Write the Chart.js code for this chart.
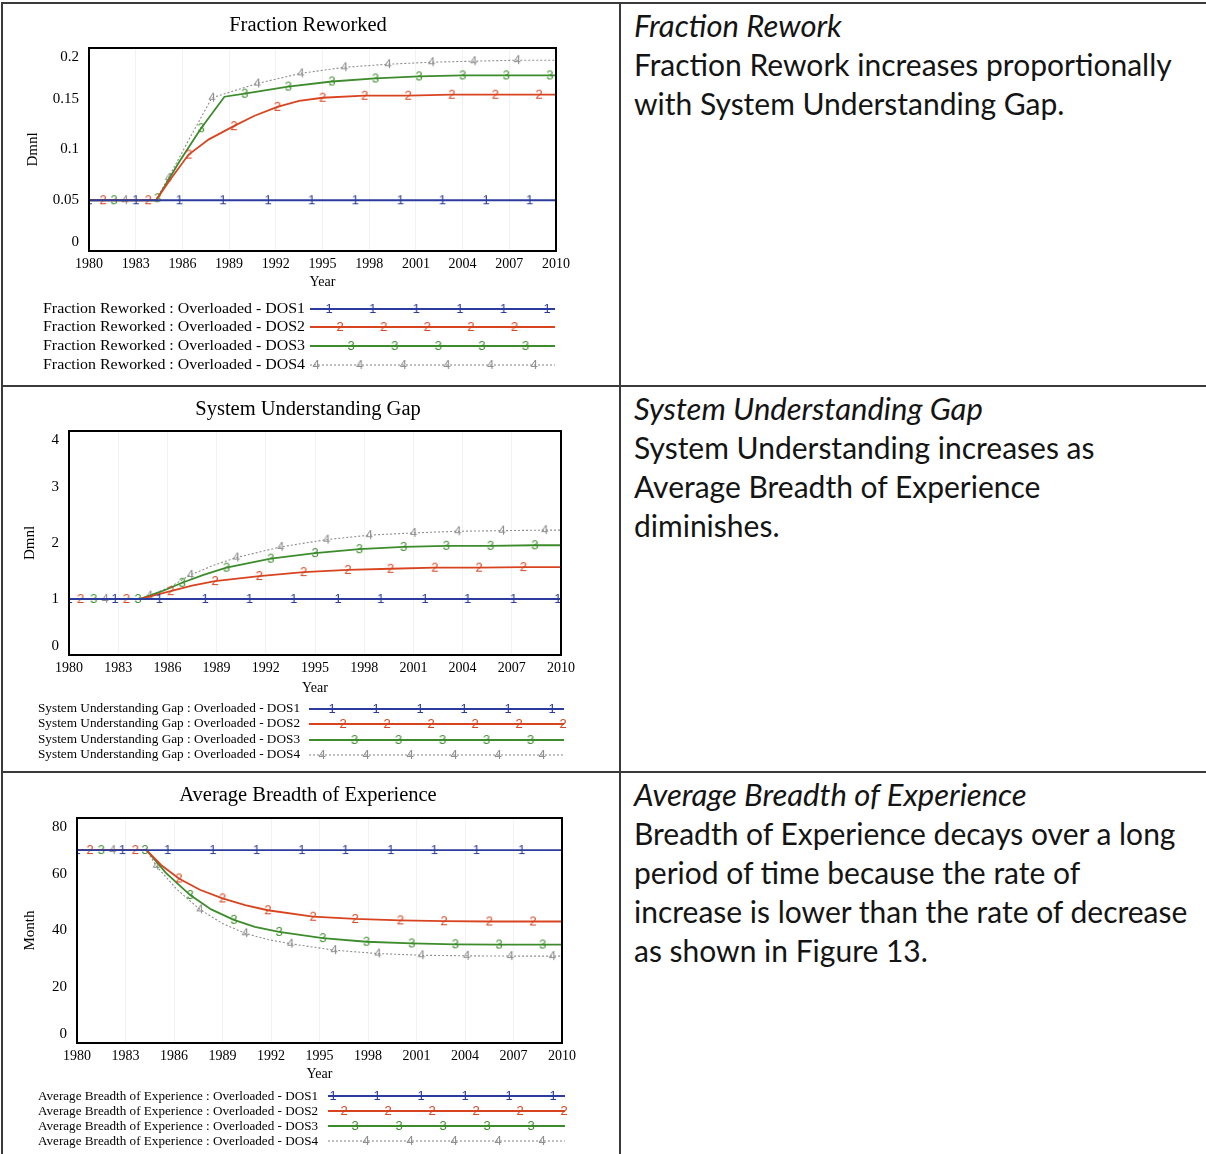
<!DOCTYPE html>
<html><head><meta charset="utf-8">
<script src="https://cdn.jsdelivr.net/npm/chart.js@4.4.1/dist/chart.umd.min.js"></script>
<style>
html,body{margin:0;padding:0;background:#fff;}
body{width:1206px;height:1154px;position:relative;overflow:hidden;}
canvas{position:absolute;left:0;}
.ln{position:absolute;background:#3a3a3a;}
.txt{position:absolute;left:634px;font-family:Lato,"Open Sans",sans-serif;font-size:30px;line-height:39px;color:#141414;white-space:nowrap;}
.txt i{font-style:italic;font-size:31px;}
</style></head><body>
<canvas id="c1" width="618" height="386" style="top:0"></canvas>
<canvas id="c2" width="618" height="386" style="top:386px"></canvas>
<canvas id="c3" width="618" height="382" style="top:772px"></canvas>

<div class="ln" style="left:1px;top:2px;width:1205px;height:2px"></div>
<div class="ln" style="left:1px;top:2px;width:2px;height:1152px"></div>
<div class="ln" style="left:619px;top:2px;width:2px;height:1152px"></div>
<div class="ln" style="left:1px;top:385px;width:1205px;height:2px"></div>
<div class="ln" style="left:1px;top:771px;width:1205px;height:2px"></div>

<div class="txt" style="top:6px"><i>Fraction Rework</i><br>Fraction Rework increases proportionally<br>with System Understanding Gap.</div>
<div class="txt" style="top:389px"><i>System Understanding Gap</i><br>System Understanding increases as<br>Average Breadth of Experience<br>diminishes.</div>
<div class="txt" style="top:775px"><i>Average Breadth of Experience</i><br>Breadth of Experience decays over a long<br>period of time because the rate of<br>increase is lower than the rate of decrease<br>as shown in Figure 13.</div>

<script>
// ---------- DATA ----------
const xTicks = [1980, 1983, 1986, 1989, 1992, 1995, 1998, 2001, 2004, 2007, 2010];
const seriesNames = ["Overloaded - DOS1", "Overloaded - DOS2", "Overloaded - DOS3", "Overloaded - DOS4"];

// Chart 1: Fraction Reworked (Dmnl)
const frX1 = [1980, 1983, 1985.8, 1988.6, 1991.5, 1994.3, 1997.1, 2000, 2002.7, 2005.5, 2008.3, 2010];
const frY1 = [0.05, 0.05, 0.05, 0.05, 0.05, 0.05, 0.05, 0.05, 0.05, 0.05, 0.05, 0.05];
const frM1 = [1980, 1983, 1985.8, 1988.6, 1991.5, 1994.3, 1997.1, 2000, 2002.7, 2005.5, 2008.3];
const frX2 = [1980, 1980.9, 1983.8, 1984.3, 1985.2, 1986.4, 1987.7, 1989.3, 1990.6, 1992.1, 1993.5, 1995, 1997.7, 2000.5, 2003.3, 2006.1, 2008.9, 2010];
const frY2 = [0.05, 0.05, 0.05, 0.05, 0.07, 0.095, 0.11, 0.123, 0.133, 0.142, 0.148, 0.151, 0.153, 0.153, 0.154, 0.154, 0.154, 0.154];
const frM2 = [1980.9, 1983.8, 1986.4, 1989.3, 1992.1, 1995, 1997.7, 2000.5, 2003.3, 2006.1, 2008.9];
const frX3 = [1980, 1981.6, 1984.3, 1984.4, 1985.8, 1987.2, 1988.7, 1990, 1992.8, 1995.6, 1998.4, 2001.2, 2004, 2006.8, 2009.6, 2010];
const frY3 = [0.05, 0.05, 0.05, 0.052, 0.088, 0.121, 0.152, 0.155, 0.162, 0.167, 0.170, 0.172, 0.173, 0.173, 0.173, 0.173];
const frM3 = [1981.6, 1984.4, 1987.2, 1990, 1992.8, 1995.6, 1998.4, 2001.2, 2004, 2006.8, 2009.6];
const frX4 = [1980, 1982.3, 1984.3, 1985.1, 1986.5, 1987.9, 1990.8, 1993.6, 1996.4, 1999.2, 2002, 2004.7, 2007.5, 2010];
const frY4 = [0.05, 0.05, 0.05, 0.072, 0.112, 0.151, 0.165, 0.175, 0.181, 0.184, 0.186, 0.187, 0.188, 0.188];
const frM4 = [1982.3, 1985.1, 1987.9, 1990.8, 1993.6, 1996.4, 1999.2, 2002, 2004.7, 2007.5];

// Chart 2: System Understanding Gap (Dmnl)
const sgX1 = [1980, 1982.8, 1985.5, 1988.3, 1991, 1993.7, 1996.4, 1999, 2001.7, 2004.3, 2007.1, 2009.8, 2010];
const sgY1 = [1, 1, 1, 1, 1, 1, 1, 1, 1, 1, 1, 1, 1];
const sgM1 = [1980, 1982.8, 1985.5, 1988.3, 1991, 1993.7, 1996.4, 1999, 2001.7, 2004.3, 2007.1, 2009.8];
const sgX2 = [1980, 1980.7, 1983.5, 1984.3, 1986.2, 1987.5, 1988.9, 1991.6, 1994.3, 1997, 1999.6, 2002.3, 2005, 2007.7, 2010];
const sgY2 = [1, 1, 1, 1, 1.14, 1.24, 1.32, 1.41, 1.48, 1.52, 1.54, 1.56, 1.56, 1.57, 1.57];
const sgM2 = [1980.7, 1983.5, 1986.2, 1988.9, 1991.6, 1994.3, 1997, 1999.6, 2002.3, 2005, 2007.7];
const sgX3 = [1980, 1981.5, 1984.2, 1984.3, 1985.6, 1986.9, 1988.2, 1989.6, 1992.3, 1995, 1997.7, 2000.4, 2003, 2005.7, 2008.4, 2010];
const sgY3 = [1, 1, 1, 1, 1.13, 1.29, 1.43, 1.56, 1.72, 1.82, 1.89, 1.93, 1.95, 1.95, 1.96, 1.96];
const sgM3 = [1981.5, 1984.2, 1986.9, 1989.6, 1992.3, 1995, 1997.7, 2000.4, 2003, 2005.7, 2008.4];
const sgX4 = [1980, 1982.2, 1984.3, 1984.9, 1986.2, 1987.4, 1988.8, 1990.2, 1992.9, 1995.7, 1998.3, 2001, 2003.7, 2006.4, 2009, 2010];
const sgY4 = [1, 1, 1, 1.06, 1.22, 1.43, 1.6, 1.74, 1.93, 2.06, 2.14, 2.18, 2.21, 2.22, 2.23, 2.23];
const sgM4 = [1982.2, 1984.9, 1987.4, 1990.2, 1992.9, 1995.7, 1998.3, 2001, 2003.7, 2006.4, 2009];

// Chart 3: Average Breadth of Experience (Month)
const abX1 = [1980, 1982.8, 1985.6, 1988.4, 1991.1, 1993.9, 1996.6, 1999.4, 2002.1, 2004.7, 2007.5, 2010];
const abY1 = [68.6, 68.6, 68.6, 68.6, 68.6, 68.6, 68.6, 68.6, 68.6, 68.6, 68.6, 68.6];
const abM1 = [1980, 1982.8, 1985.6, 1988.4, 1991.1, 1993.9, 1996.6, 1999.4, 2002.1, 2004.7, 2007.5];
const abX2 = [1980, 1980.8, 1983.6, 1984.3, 1985.2, 1986.3, 1987.6, 1989, 1990.4, 1991.8, 1994.6, 1997.2, 2000, 2002.7, 2005.5, 2008.2, 2010];
const abY2 = [68.6, 68.6, 68.6, 68.6, 63.3, 58.5, 54.5, 51.4, 49, 47.2, 44.9, 44.1, 43.6, 43.3, 43.2, 43.2, 43.2];
const abM2 = [1980.8, 1983.6, 1986.3, 1989, 1991.8, 1994.6, 1997.2, 2000, 2002.7, 2005.5, 2008.2];
const abX3 = [1980, 1981.5, 1984.2, 1984.3, 1985.5, 1987, 1988.3, 1989.7, 1991, 1992.5, 1995.2, 1997.9, 2000.7, 2003.4, 2006.1, 2008.8, 2010];
const abY3 = [68.6, 68.6, 68.6, 68.6, 60.5, 52.6, 47.5, 43.8, 41.3, 39.5, 37.3, 36, 35.4, 35.1, 35, 35, 35];
const abM3 = [1981.5, 1984.2, 1987, 1989.7, 1992.5, 1995.2, 1997.9, 2000.7, 2003.4, 2006.1, 2008.8];
const abX4 = [1980, 1982.2, 1984.3, 1984.9, 1986.2, 1987.6, 1989, 1990.4, 1991.8, 1993.2, 1995.9, 1998.6, 2001.3, 2004.1, 2006.8, 2009.4, 2010];
const abY4 = [68.6, 68.6, 68.6, 63, 54.5, 47.5, 42.5, 39, 36.8, 35.3, 33, 31.8, 31.2, 31, 30.9, 30.9, 30.9];
const abM4 = [1982.2, 1984.9, 1987.6, 1990.4, 1993.2, 1995.9, 1998.6, 2001.3, 2004.1, 2006.8, 2009.4];

// ---------- STYLE ----------
const COLORS = ["#2b3b9e", "#d8441f", "#3c8c2c", "#8e8e8e"];
const WIDTHS = [1.8, 1.8, 1.8, 1.1];
const DASHES = [[], [], [], [2, 2]];
const SERIF = '"Liberation Serif", "Times New Roman", serif';

function digitImg(d, color) {
  const c = document.createElement('canvas');
  c.width = 12; c.height = 16;
  const g = c.getContext('2d');
  g.font = '13px "Liberation Sans", Arial, sans-serif';
  g.fillStyle = color;
  g.textAlign = 'center';
  g.textBaseline = 'middle';
  g.fillText(String(d), 6, 8.5);
  return c;
}
const MARKS = COLORS.map((c, i) => digitImg(i + 1, c));

const boxPlugin = {
  id: 'plotBox',
  afterDraw(chart, args, o) {
    const {ctx, chartArea: a} = chart;
    ctx.save();
    ctx.strokeStyle = '#000';
    ctx.lineWidth = 2;
    ctx.strokeRect(a.left, a.top, a.right - a.left, a.bottom - a.top);
    if (o && o.text) {
      ctx.font = o.font;
      ctx.fillStyle = '#000';
      ctx.textAlign = 'center';
      ctx.textBaseline = 'middle';
      ctx.fillText(o.text, o.x, o.y);
    }
    ctx.restore();
  }
};

const legendPlugin = {
  id: 'vLegend',
  afterDraw(chart, args, o) {
    if (!o || !o.rows) return;
    const ctx = chart.ctx;
    ctx.save();
    chart.data.datasets.forEach((ds, i) => {
      const y = o.rows[i];
      ctx.font = o.font;
      ctx.fillStyle = '#000';
      ctx.textBaseline = 'middle';
      ctx.textAlign = 'left';
      const w = ctx.measureText(ds.label).width;
      ctx.save();
      ctx.translate(o.textX, y);
      ctx.scale(o.textW / w, 1);
      ctx.fillText(ds.label, 0, 0);
      ctx.restore();
      ctx.strokeStyle = ds.borderColor;
      ctx.lineWidth = ds.borderWidth;
      ctx.setLineDash(ds.borderDash || []);
      ctx.beginPath();
      ctx.moveTo(o.x0, y);
      ctx.lineTo(o.x1, y);
      ctx.stroke();
      ctx.setLineDash([]);
      for (let x = o.x0 + o.offsets[i]; x <= o.x1 + 1; x += o.spacing) {
        ctx.drawImage(MARKS[i], x - 6, y - 8);
      }
    });
    ctx.restore();
  }
};

function makeChart(id, p) {
  const datasets = p.series.map((s, i) => ({
    label: p.name + ' : ' + seriesNames[i],
    data: s.x.map((v, k) => ({x: v, y: s.y[k]})),
    borderColor: COLORS[i],
    borderWidth: WIDTHS[i],
    borderDash: DASHES[i],
    pointStyle: MARKS[i],
    pointRadius: ctx => (ctx.raw && s.m.includes(ctx.raw.x)) ? 5 : 0,
    pointHoverRadius: 0,
    tension: 0,
    fill: false
  }));
  return new Chart(document.getElementById(id), {
    type: 'line',
    data: {datasets},
    options: {
      responsive: false,
      animation: false,
      events: [],
      layout: {padding: {left: p.padL, right: p.padR, top: p.padT, bottom: p.padB}},
      plugins: {
        legend: {display: false},
        tooltip: {enabled: false},
        title: {display: false},
        plotBox: {text: p.name, x: 308, y: p.titleY, font: '20.5px ' + SERIF},
        vLegend: p.legend
      },
      scales: {
        x: {
          type: 'linear', min: 1980, max: 2010,
          afterBuildTicks: sc => { sc.ticks = xTicks.map(v => ({value: v})); },
          afterFit: sc => { sc.height = p.xH; },
          ticks: {color: '#000', font: {family: SERIF, size: 14}, padding: 5, maxRotation: 0,
                  callback: v => String(v)},
          grid: {display: true, color: 'rgba(0,0,0,0.05)', drawTicks: false},
          border: {display: false},
          title: {display: true, text: 'Year', color: '#000', font: {family: SERIF, size: 14},
                  padding: {top: 0, bottom: 0}}
        },
        y: {
          min: p.yMin, max: p.yMax,
          afterFit: sc => { sc.width = p.yW; },
          ticks: {stepSize: p.yStep, color: '#000', font: {family: SERIF, size: 15}, padding: 10,
                  callback: v => {
                    const t = String(parseFloat(Number(v).toFixed(4)));
                    if (v === p.yMax) return ['', t];
                    if (v === p.yMin) return [t, ''];
                    return t;
                  }},
          grid: {display: false, drawTicks: false},
          border: {display: false},
          title: {display: true, text: p.yTitle, color: '#000', font: {family: SERIF, size: 15},
                  padding: {top: 0, bottom: 0}}
        }
      }
    },
    plugins: [boxPlugin, legendPlugin]
  });
}

makeChart('c1', {
  name: 'Fraction Reworked', yTitle: 'Dmnl', yMin: 0, yMax: 0.2, yStep: 0.05, titleY: 26,
  padL: 24, yW: 65, padR: 62, padT: 48, padB: 95, xH: 40,
  series: [{x: frX1, y: frY1, m: frM1}, {x: frX2, y: frY2, m: frM2}, {x: frX3, y: frY3, m: frM3}, {x: frX4, y: frY4, m: frM4}],
  legend: {rows: [309, 327, 346, 365], font: '15px ' + SERIF, textX: 43, textW: 262,
           x0: 310, x1: 555, offsets: [19, 30, 41, 6], spacing: 43.6}
});
makeChart('c2', {
  name: 'System Understanding Gap', yTitle: 'Dmnl', yMin: 0, yMax: 4, yStep: 1, titleY: 24,
  padL: 21, yW: 48, padR: 57, padT: 45, padB: 75, xH: 42,
  series: [{x: sgX1, y: sgY1, m: sgM1}, {x: sgX2, y: sgY2, m: sgM2}, {x: sgX3, y: sgY3, m: sgM3}, {x: sgX4, y: sgY4, m: sgM4}],
  legend: {rows: [323, 338, 354, 369], font: '13px ' + SERIF, textX: 38, textW: 262,
           x0: 309, x1: 564, offsets: [23, 34, 45.5, 13], spacing: 44}
});
makeChart('c3', {
  name: 'Average Breadth of Experience', yTitle: 'Month', yMin: 0, yMax: 80, yStep: 20, titleY: 24,
  padL: 21, yW: 56, padR: 56, padT: 46, padB: 71, xH: 40,
  series: [{x: abX1, y: abY1, m: abM1}, {x: abX2, y: abY2, m: abM2}, {x: abX3, y: abY3, m: abM3}, {x: abX4, y: abY4, m: abM4}],
  legend: {rows: [324, 339, 354, 369], font: '13.5px ' + SERIF, textX: 38, textW: 280,
           x0: 328, x1: 565, offsets: [5, 16, 27, 38], spacing: 44}
});
</script>
</body></html>
